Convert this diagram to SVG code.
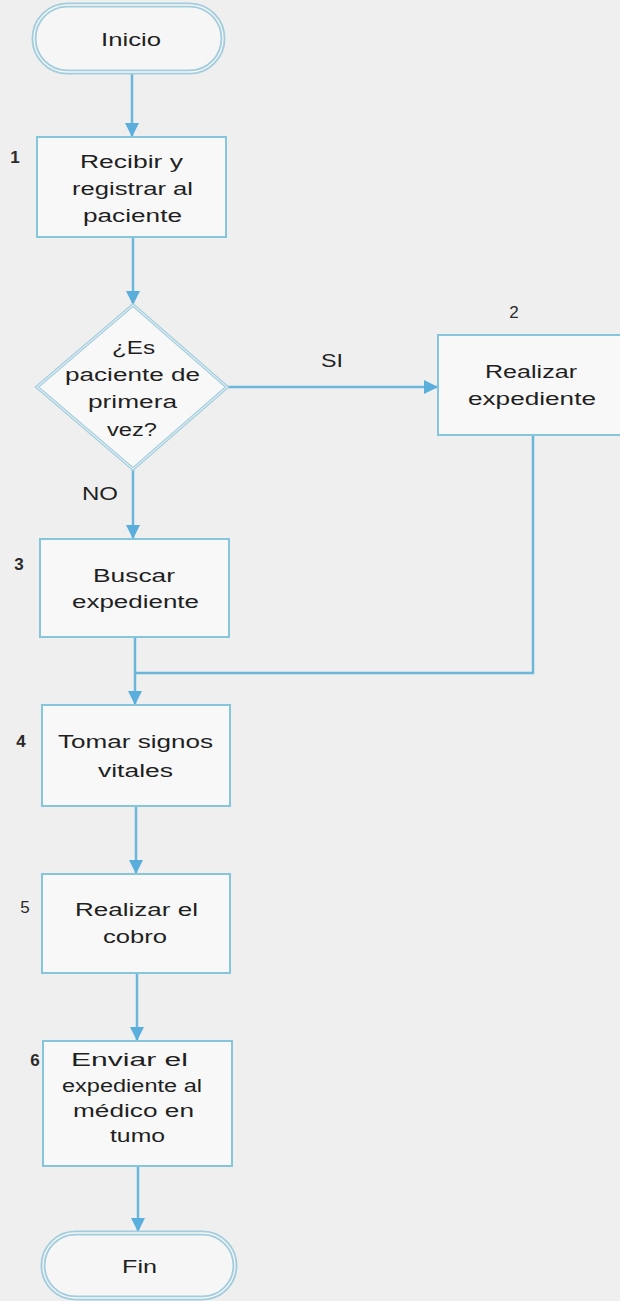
<svg xmlns="http://www.w3.org/2000/svg" width="620" height="1301" viewBox="0 0 620 1301">
<defs>
<marker id="ah" viewBox="0 0 10 10" refX="10" refY="5" markerWidth="14" markerHeight="14" markerUnits="userSpaceOnUse" orient="auto">
<path d="M0,0 L10,5 L0,10 z" fill="#5aaedb"/>
</marker>
</defs>
<style>
.bg{fill:#efefef}
.box{fill:#f8f8f8;stroke:#86c6dd;stroke-width:2}
.term{fill:#f6f6f6;stroke:#a3cddd;stroke-width:5}
.termin{fill:none;stroke:#f4f7f8;stroke-width:1.3}
.dia{fill:#f8f8f8;stroke:#a6d0df;stroke-width:3.5}
.diain{fill:none;stroke:#f4f7f8;stroke-width:1}
.ln{fill:none;stroke:#6bb6db;stroke-width:2.5}
.arr{fill:none;stroke:#6bb6db;stroke-width:2.5;marker-end:url(#ah)}
text{font-family:"Liberation Sans",Arial,sans-serif;font-size:17.5px;fill:#1f1f1f;text-anchor:middle}
.num{font-size:17px;font-weight:bold;fill:#2a2a2a}
</style>
<rect class="bg" x="0" y="0" width="620" height="1301"/>
<g id="connectors">
<line class="arr" x1="132" y1="73" x2="132" y2="137"/>
<line class="arr" x1="133" y1="237" x2="133" y2="305"/>
<line class="arr" x1="227" y1="387" x2="438" y2="387"/>
<line class="arr" x1="133" y1="469" x2="133" y2="539"/>
<polyline class="ln" points="533,435 533,673 135,673"/>
<line class="arr" x1="135" y1="637" x2="135" y2="705"/>
<line class="arr" x1="136" y1="806" x2="136" y2="874"/>
<line class="arr" x1="137" y1="973" x2="137" y2="1041"/>
<line class="arr" x1="138" y1="1166" x2="138" y2="1232"/>
<text x="332" y="367" textLength="22" lengthAdjust="spacingAndGlyphs">SI</text>
<text x="100" y="500" textLength="36" lengthAdjust="spacingAndGlyphs">NO</text>
</g>
<g id="inicio">
<rect class="term" x="34" y="5" width="189" height="67" rx="33.5"/>
<rect class="termin" x="34" y="5" width="189" height="67" rx="33.5"/>
<text x="131" y="46" textLength="60" lengthAdjust="spacingAndGlyphs" style="font-size:19px">Inicio</text>
</g>
<g id="n1">
<rect class="box" x="37" y="137" width="189" height="100"/>
<text class="num" x="15" y="163">1</text>
<text x="131.5" y="168" textLength="103" lengthAdjust="spacingAndGlyphs">Recibir y</text>
<text x="132.5" y="195" textLength="121" lengthAdjust="spacingAndGlyphs">registrar al</text>
<text x="132.5" y="222" textLength="99" lengthAdjust="spacingAndGlyphs">paciente</text>
</g>
<g id="decision">
<polygon class="dia" points="133,305 227,387 133,469 37,387"/>
<polygon class="diain" points="133,305 227,387 133,469 37,387"/>
<text x="133.5" y="354" textLength="43" lengthAdjust="spacingAndGlyphs">¿Es</text>
<text x="132.5" y="381" textLength="135" lengthAdjust="spacingAndGlyphs">paciente de</text>
<text x="132.5" y="408" textLength="89" lengthAdjust="spacingAndGlyphs">primera</text>
<text x="132" y="436" textLength="50" lengthAdjust="spacingAndGlyphs">vez?</text>
</g>
<g id="n2">
<rect class="box" x="438" y="335" width="190" height="100"/>
<text class="num" x="514" y="318" style="font-weight:normal">2</text>
<text x="531" y="378" textLength="92" lengthAdjust="spacingAndGlyphs">Realizar</text>
<text x="532" y="405" textLength="128" lengthAdjust="spacingAndGlyphs">expediente</text>
</g>
<g id="n3">
<rect class="box" x="40" y="539" width="189" height="98"/>
<text class="num" x="19" y="570">3</text>
<text x="134" y="582" textLength="82" lengthAdjust="spacingAndGlyphs">Buscar</text>
<text x="135.5" y="608" textLength="127" lengthAdjust="spacingAndGlyphs">expediente</text>
</g>
<g id="n4">
<rect class="box" x="42" y="705" width="188" height="101"/>
<text class="num" x="21" y="747">4</text>
<text x="135.5" y="748" textLength="155" lengthAdjust="spacingAndGlyphs">Tomar signos</text>
<text x="135.5" y="777" textLength="75" lengthAdjust="spacingAndGlyphs">vitales</text>
</g>
<g id="n5">
<rect class="box" x="42" y="874" width="188" height="99"/>
<text class="num" x="25" y="913" style="font-weight:normal">5</text>
<text x="136.5" y="916" textLength="123" lengthAdjust="spacingAndGlyphs">Realizar el</text>
<text x="135" y="943" textLength="64" lengthAdjust="spacingAndGlyphs">cobro</text>
</g>
<g id="n6">
<rect class="box" x="43" y="1041" width="189" height="125"/>
<text class="num" x="35" y="1066">6</text>
<text x="129.5" y="1066" textLength="117" lengthAdjust="spacingAndGlyphs">Enviar el</text>
<text x="132" y="1092" textLength="140" lengthAdjust="spacingAndGlyphs">expediente al</text>
<text x="133.5" y="1117" textLength="121" lengthAdjust="spacingAndGlyphs">médico en</text>
<text x="137.5" y="1142" textLength="55" lengthAdjust="spacingAndGlyphs">tumo</text>
</g>
<g id="fin">
<rect class="term" x="43" y="1233" width="192" height="65" rx="32.5"/>
<rect class="termin" x="43" y="1233" width="192" height="65" rx="32.5"/>
<text x="139.5" y="1273" textLength="35" lengthAdjust="spacingAndGlyphs" style="font-size:19px">Fin</text>
</g>
</svg>
